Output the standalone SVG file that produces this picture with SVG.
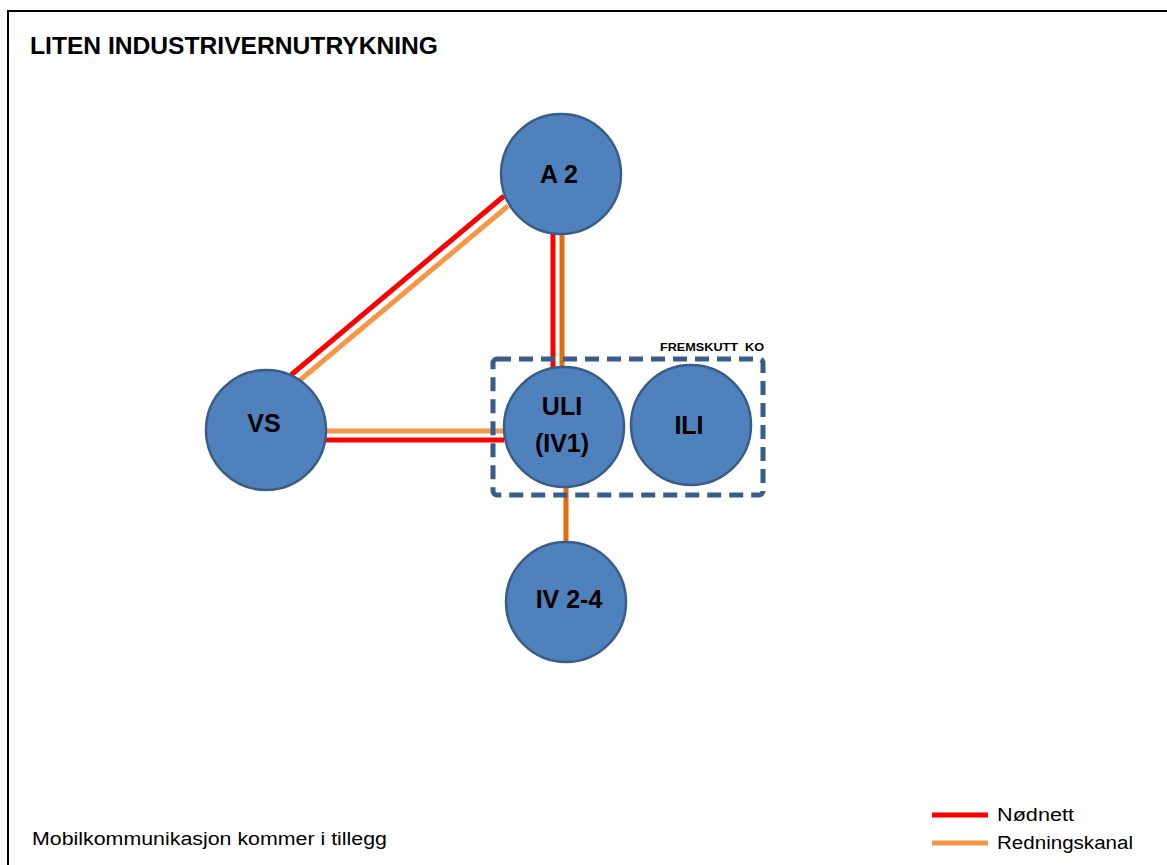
<svg xmlns="http://www.w3.org/2000/svg" width="1167" height="865" viewBox="0 0 1167 865">
<style>
.node{fill:#4F81BD;stroke:#385D8A;stroke-width:2.5}
.lbl{font-family:"Liberation Sans",Arial,sans-serif;font-weight:bold;font-size:25px;fill:#000;text-anchor:middle}
.txt{font-family:"Liberation Sans",Arial,sans-serif;fill:#000}
.red{stroke:#FF0000;stroke-width:5;fill:none}
.org{stroke:#F79646;stroke-width:5;fill:none}
.dorg{stroke:#E46C0A;stroke-width:5;fill:none}
</style>
<rect width="1167" height="865" fill="#fff"/>
<path d="M8,865 V11 H1167" fill="none" stroke="#000" stroke-width="2"/>
<text class="txt" x="30" y="54" font-size="23" font-weight="bold" textLength="408" lengthAdjust="spacingAndGlyphs">LITEN INDUSTRIVERNUTRYKNING</text>
<g id="connectors">
<line class="red" x1="504" y1="196" x2="291" y2="375"/>
<line class="org" x1="508" y1="206" x2="299" y2="381"/>
<line class="red" x1="553" y1="234" x2="553" y2="368"/>
<line class="dorg" x1="562" y1="234" x2="562" y2="368"/>
<line class="org" x1="325" y1="431" x2="504" y2="431"/>
<line class="red" x1="325" y1="440" x2="504" y2="440"/>
<line class="dorg" x1="566" y1="487" x2="566" y2="542"/>
</g>
<g id="fremskutt-ko">
<rect x="493" y="359" width="270" height="136" rx="4" fill="none" stroke="#385D8A" stroke-width="5" stroke-dasharray="14 8"/>
<text class="txt" x="660" y="351" font-size="11.5" font-weight="bold" textLength="104" lengthAdjust="spacingAndGlyphs" xml:space="preserve">FREMSKUTT  KO</text>
</g>
<g id="node-a2">
<circle class="node" cx="561" cy="174" r="60"/>
<text class="lbl" x="559" y="183">A 2</text>
</g>
<g id="node-vs">
<circle class="node" cx="266" cy="430" r="60"/>
<text class="lbl" x="264" y="432">VS</text>
</g>
<g id="node-uli">
<circle class="node" cx="564" cy="427" r="60"/>
<text class="lbl" x="562" y="415">ULI</text>
<text class="lbl" x="562" y="452">(IV1)</text>
</g>
<g id="node-ili">
<circle class="node" cx="691" cy="425" r="60"/>
<text class="lbl" x="689" y="434">ILI</text>
</g>
<g id="node-iv24">
<circle class="node" cx="566" cy="602" r="60"/>
<text class="lbl" x="569" y="608">IV 2-4</text>
</g>
<g id="legend">
<line class="red" x1="932" y1="815" x2="988" y2="815"/>
<line class="org" x1="932" y1="843" x2="988" y2="843"/>
<text class="txt" x="997" y="821" font-size="18" textLength="77" lengthAdjust="spacingAndGlyphs">Nødnett</text>
<text class="txt" x="997" y="849" font-size="18" textLength="136" lengthAdjust="spacingAndGlyphs">Redningskanal</text>
</g>
<text class="txt" x="32" y="845" font-size="18" textLength="355" lengthAdjust="spacingAndGlyphs">Mobilkommunikasjon kommer i tillegg</text>
</svg>
